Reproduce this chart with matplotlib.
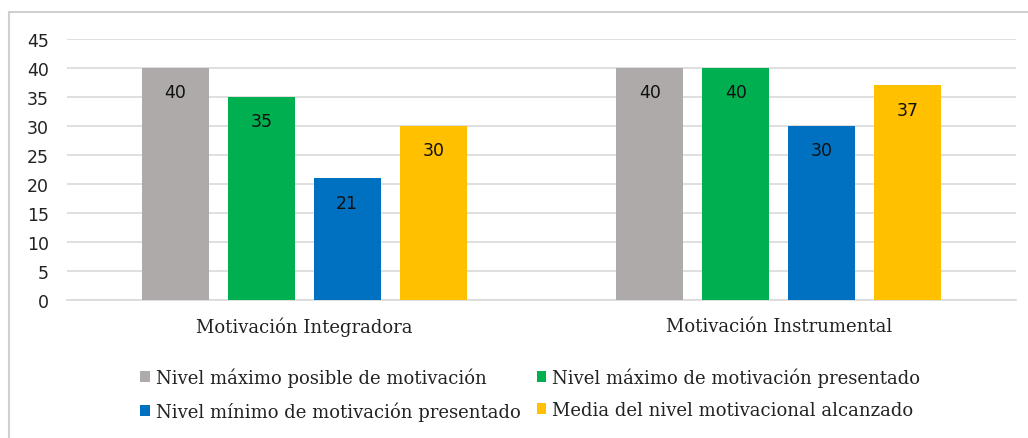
import matplotlib.pyplot as plt
import numpy as np
from matplotlib.patches import Rectangle

# chart data
categories = ["Motivación Integradora", "Motivación Instrumental"]
series_names = [
    "Nivel máximo posible de motivación",
    "Nivel máximo de motivación presentado",
    "Nivel mínimo de motivación presentado",
    "Media del nivel motivacional alcanzado",
]
max_posible = [40, 40]
max_presentado = [35, 40]
min_presentado = [21, 30]
media = [30, 37]
series_values = [max_posible, max_presentado, min_presentado, media]
colors = ["#AEAAAA", "#00B050", "#0070C0", "#FFC000"]
y_ticks = list(range(0, 50, 5))

fig = plt.figure(figsize=(10.28, 4.39), dpi=100)
ax = fig.add_axes([67 / 1028, 1 - 301 / 439, 949 / 1028, 261 / 439])

# light outer frame like the Excel chart area
fig.patches.append(Rectangle((9 / 1028, -0.5), 2, 0.5 + 1 - 13 / 439,
                             transform=fig.transFigure, fill=False,
                             edgecolor="#D0D0D0", linewidth=1.5))

x = np.arange(len(categories))
step = 0.1812
width = 0.1412
bars = []
for i, (vals, col) in enumerate(zip(series_values, colors)):
    b = ax.bar(x + (i - 1.5) * step, vals, width, color=col, zorder=3,
               label=series_names[i])
    bars.append(b)
    for rect, v in zip(b, vals):
        ax.annotate(str(v), (rect.get_x() + rect.get_width() / 2, v),
                    xytext=(0, -17.5), textcoords="offset points",
                    ha="center", va="center", fontsize=12.5,
                    family="DejaVu Sans", color="#111111", zorder=4)

ax.set_xlim(-0.5, 1.5)
ax.set_ylim(0, 45)
ax.set_yticks(y_ticks)
ax.yaxis.grid(True, color="#D9D9D9", linewidth=1.2, zorder=0)
ax.set_axisbelow(True)
for s in ["top", "right", "left"]:
    ax.spines[s].set_visible(False)
ax.spines["bottom"].set_color("#D9D9D9")
ax.spines["bottom"].set_linewidth(1.2)
ax.tick_params(axis="y", length=0, pad=13, labelsize=12.5, labelcolor="#222222")
ax.tick_params(axis="x", length=0, pad=12)
ax.set_xticks(x)
ax.set_xticklabels(categories, family="DejaVu Serif", fontsize=13, color="#222222")
for lbl in ax.get_yticklabels():
    lbl.set_family("DejaVu Sans")

# legend ordered column-wise so rows read gray/green, blue/yellow
order = [0, 2, 1, 3]
leg = fig.legend([bars[i] for i in order], [series_names[i] for i in order],
                 loc="center", bbox_to_anchor=(530 / 1028, 1 - 395 / 439),
                 ncol=2, frameon=False, handlelength=0.55, handleheight=0.55,
                 handletextpad=0.3, columnspacing=0.9, labelspacing=0.8,
                 prop={"family": "DejaVu Serif", "size": 13})
for t in leg.get_texts():
    t.set_color("#222222")

fig.savefig("out.png", dpi=100)
